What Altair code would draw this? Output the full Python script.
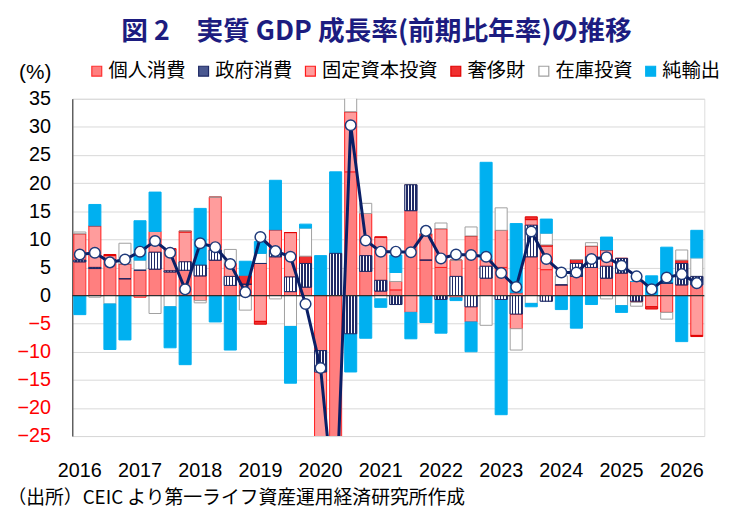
import altair as alt
import pandas as pd

quarters = list(range(42))  # 2016Q1 .. 2026Q2
components = ["個人消費", "政府消費", "固定資本投資", "奢侈財", "在庫投資", "純輸出"]

personal = [6.0, 4.8, 6.4, 3.0, 4.5, 4.7, 4.2, 4.5, 3.5, 6.3, 1.8, 2.0,
            5.7, 6.9, 0.7, 1.5, -9.8, -40.0, 22.0, 4.3, 0.8, 1.0, 15.1, 6.3,
            5.0, -0.4, 10.6, 3.1, 5.0, 0.5, 6.9, 4.6, 1.9, 3.4, 5.0, 3.1,
            4.0, 2.5, 0.0, 2.2, 1.9, 1.9]
government = [0.3, 0.2, 0.0, 0.0, 0.0, 3.0, 0.2, 1.5, 1.9, 1.8, 1.6, 0.0,
              0.0, 1.2, 2.6, 4.2, -3.8, 7.5, -6.8, 2.8, 1.9, -1.6, 4.6, 0.0,
              -0.7, 3.4, -2.0, 2.1, -0.7, -3.3, 5.6, -1.0, 0.0, 2.3, 1.9, 2.1,
              2.6, -1.0, 0.0, 0.0, 3.8, 1.5]
fixed_inv = [4.7, 7.4, 0.7, 2.6, -0.3, 3.7, 3.9, 5.3, -0.9, 9.4, 2.3, 0.0,
             -4.6, 3.6, 7.9, 0.0, -12.0, 0.0, 10.7, 7.5, 7.7, 1.5, -3.0, 4.5,
             6.9, 2.9, -2.7, 1.2, 6.6, -2.6, 1.0, 4.2, 0.0, 0.0, 1.9, 2.9,
             0.0, 0.0, -2.0, -3.0, 0.0, -7.1]
valuables = [0.0, 0.0, 0.2, 0.0, 0.0, 0.0, 0.0, 0.2, 0.0, 0.0, 0.0, 1.6,
             -0.5, 0.0, 0.0, 1.3, 0.0, 0.0, 0.0, 0.0, 0.0, 0.0, 0.0, 0.2,
             0.0, 0.0, 0.0, 0.0, 0.0, 0.0, 0.5, 0.2, 0.0, 0.7, 0.0, 0.0,
             0.0, -0.2, -0.4, 0.0, 0.6, -0.2]
inventory = [0.3, -0.3, -1.5, 3.7, 1.8, -3.2, -2.0, 0.0, -0.4, 0.0, 2.5, -2.6,
             1.8, -0.6, -5.5, 5.0, 0.0, 0.0, 3.5, 1.8, -0.6, 1.6, 0.0, 0.0,
             1.0, 0.0, 1.6, -5.3, 4.0, -3.8, -1.4, 2.1, 1.6, 0.0, 0.6, -0.6,
             -1.8, -0.7, 0.0, -1.2, 1.8, 3.3]
net_exports = [-3.4, 3.8, -8.1, -7.9, 7.0, 7.0, -7.3, -12.3, 10.1, -4.7, -9.7, 2.5,
               2.1, 8.8, -10.1, 0.7, 7.1, 14.5, -6.8, -7.6, -1.5, 3.1, -4.7, -4.8,
               -6.0, -0.5, -5.3, 17.3, -20.5, 12.3, -0.6, 2.5, -2.5, -5.8, -1.6, 2.3,
               -1.2, 0.0, 3.5, 6.4, -8.2, 4.9]
gdp = [7.3, 7.6, 5.9, 6.4, 7.8, 9.7, 7.6, 1.1, 9.3, 8.6, 5.6, 0.6,
       10.4, 7.9, 6.9, -1.5, -12.9, -40.0, 30.3, 9.8, 7.8, 7.8, 7.7, 11.5,
       6.6, 7.3, 7.2, 6.9, 4.0, 1.5, 11.4, 6.5, 4.1, 4.1, 6.5, 6.8,
       5.3, 3.4, 1.1, 3.2, 3.8, 2.2]
y_ticks = [-25, -20, -15, -10, -5, 0, 5, 10, 15, 20, 25, 30, 35]

series = [personal, government, fixed_inv, valuables, inventory, net_exports]
rows = []
for ci, (name, vals) in enumerate(zip(components, series)):
    for q, v in zip(quarters, vals):
        rows.append({"q": q, "comp": name, "ord": ci, "value": v})
bars_df = pd.DataFrame(rows)
line_df = pd.DataFrame({"q": quarters, "gdp": gdp})
zero_df = pd.DataFrame({"z": [0]})

fills = ["#FF7F7F", "#4A5890", "#FF9C9C", "#F03030", "#FFFFFF", "#00B0F0"]
strokes = ["#FF3030", "#1F2A66", "#FF1A1A", "#E00000", "#A0A0A0", "#00B0F0"]

navy = "#1F2A66"
stops = []
n = 4
for k in range(n):
    a = k / n
    m = a + 0.5 / n
    b = (k + 1) / n
    stops += [{"offset": a, "color": "#FFFFFF"}, {"offset": m, "color": "#FFFFFF"},
              {"offset": m, "color": navy}, {"offset": b, "color": navy}]
gov_grad = alt.Gradient(gradient="linear", x1=0, y1=0, x2=1, y2=0, stops=stops)

x_axis = alt.Axis(labelExpr="datum.value % 4 == 0 ? '' + (2016 + datum.value / 4) : ''",
                  labelAngle=0, ticks=False, domain=False, grid=False,
                  labelOverlap=False, labelPadding=25, labelFontSize=20,
                  labelFont="Liberation Sans", labelColor="#000000",
                  title="（出所）CEIC より第一ライフ資産運用経済研究所作成",
                  titleX=-66, titleY=72, titleAlign="left", titleBaseline="bottom",
                  titleFont="Noto Sans CJK JP", titleFontSize=19,
                  titleFontWeight="normal", titleColor="#000000")
x_scale = alt.Scale(paddingInner=0.2, paddingOuter=0.1)

y_scale = alt.Scale(domain=[-25, 35], nice=False, zero=False)
y_axis = alt.Axis(values=y_ticks, ticks=False, domain=True,
                  domainColor="#404040", domainWidth=1.2,
                  gridColor="#D9D9D9", gridWidth=1, labelOverlap=False, labelFlush=False,
                  labelFontSize=20, labelFont="Liberation Sans", labelPadding=22,
                  labelColor={"condition": {"test": "datum.value < 0", "value": "#FF0000"},
                              "value": "#000000"},
                  title="(%)", titleAngle=0, titleX=-38, titleY=-27,
                  titleAlign="center", titleBaseline="middle",
                  titleFontSize=21, titleFontWeight="normal", titleFont="Liberation Sans",
                  titleColor="#000000")

legend = alt.Legend(title=None, orient="none", legendX=15, legendY=-38,
                    direction="horizontal", symbolType="square", symbolSize=100,
                    symbolStrokeWidth=1.2, labelFont="Noto Sans CJK JP",
                    labelFontSize=19.5, labelColor="#000000", labelOffset=2,
                    columnPadding=8, padding=0)

base = alt.Chart(bars_df).transform_stack(
    stack="value", groupby=["q"], as_=["y0", "y1"], sort=[alt.SortField("ord")]
)

bars = base.mark_bar(clip=True, strokeWidth=1).encode(
    x=alt.X("q:O", scale=x_scale, axis=x_axis),
    y=alt.Y("y0:Q", scale=y_scale, axis=y_axis),
    y2="y1:Q",
    fill=alt.Fill("comp:N", scale=alt.Scale(domain=components, range=fills),
                  sort=components, legend=legend),
    stroke=alt.Stroke("comp:N", scale=alt.Scale(domain=components, range=strokes),
                      sort=components, legend=legend),
)

gov_bars = base.transform_filter(alt.datum.comp == "政府消費").mark_bar(
    clip=True, fill=gov_grad, stroke=navy, strokeWidth=1
).encode(x=alt.X("q:O", scale=x_scale, axis=x_axis),
         y=alt.Y("y0:Q", scale=y_scale, axis=y_axis), y2="y1:Q")

zero_rule = alt.Chart(zero_df).mark_rule(color="#303030", strokeWidth=1.3).encode(
    y=alt.Y("z:Q", scale=y_scale, axis=y_axis))

line = alt.Chart(line_df).mark_line(clip=True, color="#0A1F66", strokeWidth=3).encode(
    x=alt.X("q:O", scale=x_scale, axis=x_axis),
    y=alt.Y("gdp:Q", scale=y_scale, axis=y_axis)
)
points = alt.Chart(line_df).mark_point(
    clip=True, filled=True, fill="#FFFFFF", stroke="#1F3A7A", strokeWidth=1.5,
    size=115, opacity=1
).encode(x=alt.X("q:O", scale=x_scale, axis=x_axis),
         y=alt.Y("gdp:Q", scale=y_scale, axis=y_axis))

chart = alt.layer(bars, gov_bars, zero_rule, line, points).properties(
    width=639, height=341,
    autosize=alt.AutoSizeParams(type="none"),
    padding={"left": 65, "top": 89, "right": 29, "bottom": 74},
    title=alt.TitleParams(
        text="図 2　実質 GDP 成長率(前期比年率)の推移",
        font="Noto Sans CJK JP", fontSize=27, fontWeight="bold", color="#1C1C80",
        anchor="middle", frame="group", offset=15, dx=-12
    ),
).configure_view(stroke=None).configure_axisY(labelOverlap=False).configure(background="#FFFFFF")

chart.save("out.html", embed_options={"renderer": "svg", "actions": False})
